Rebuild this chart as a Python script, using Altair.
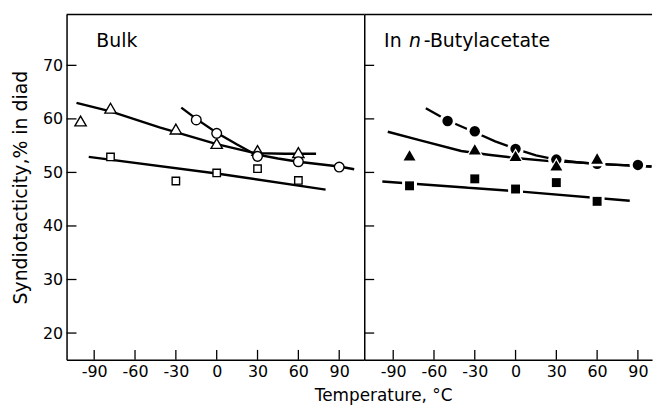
import altair as alt
import pandas as pd

# ---------------- data ----------------
x_ticks = [-90, -60, -30, 0, 30, 60, 90]
y_ticks = [20, 30, 40, 50, 60, 70]

# Bulk: measured points
bulk_tri_T = [-100, -78, -30, 0, 30, 60]
bulk_tri_v = [59.6, 62.0, 58.1, 55.4, 54.1, 53.7]
bulk_circ_T = [-15, 0, 30, 60, 90]
bulk_circ_v = [59.8, 57.3, 53.0, 52.0, 51.0]
bulk_sq_T = [-78, -30, 0, 30, 60]
bulk_sq_v = [52.9, 48.4, 49.9, 50.7, 48.5]

# Bulk: drawn curves
bulk_tri_line_T = [-103, -78, -42, 0, 28, 50, 73]
bulk_tri_line_v = [63.0, 61.4, 58.4, 55.3, 53.6, 53.5, 53.5]
bulk_circ_line_T = [-26, -15, 0, 15, 28, 45, 60, 90, 101]
bulk_circ_line_v = [62.1, 60.0, 57.4, 55.2, 53.4, 52.6, 52.0, 51.1, 50.6]
bulk_sq_line_T = [-94, 0, 80]
bulk_sq_line_v = [52.9, 49.8, 46.8]

# In n-Butylacetate: measured points
sol_circ_T = [-50, -30, 0, 30, 60, 90]
sol_circ_v = [59.6, 57.7, 54.4, 52.4, 51.6, 51.4]
sol_tri_T = [-78, -30, 0, 30, 60]
sol_tri_v = [53.2, 54.3, 53.1, 51.3, 52.6]
sol_sq_T = [-78, -30, 0, 30, 60]
sol_sq_v = [47.5, 48.8, 46.9, 48.1, 44.6]

# In n-Butylacetate: drawn curves
sol_circ_line_T = [-66, -50, -30, -15, 0, 15, 30, 45, 60, 75, 100]
sol_circ_line_v = [62.0, 59.7, 57.5, 55.8, 54.4, 53.2, 52.4, 51.9, 51.6, 51.4, 51.1]
sol_tri_line_T = [-94, -70, -40, -20, 0, 25, 45, 60, 100]
sol_tri_line_v = [57.6, 56.0, 54.0, 53.3, 52.7, 52.1, 51.9, 51.6, 51.1]
sol_sq_line_T = [-98, 0, 84]
sol_sq_line_v = [48.3, 46.5, 44.7]

# ---------------- layout ----------------
H = 348
W1 = 300
W2 = 290
Y_DOM = [15, 79.5]
X_DOM1 = [-110.3, 108.4]
X_DOM2 = [-111.3, 100.4]
FONT = "DejaVu Sans"
LABEL_EXPR = "datum.value < 0 ? '-' + abs(datum.value) : '' + datum.value"


def df(T, v, s):
    return pd.DataFrame({"t": T, "v": v, "s": s})


def lines_df(items):
    return pd.concat([df(T, v, s) for T, v, s in items], ignore_index=True)


def panel(xdom, width, lines, markers, labels, left):
    xs = alt.Scale(domain=xdom, nice=False, zero=False)
    ys = alt.Scale(domain=Y_DOM, nice=False, zero=False)
    common = dict(ticks=False, grid=False, labelFont=FONT, labelFontSize=16,
                  labelColor="black", domainColor="black", domainWidth=1.5,
                  titleFont=FONT, titleFontWeight="normal", titleColor="black")
    if left:
        xaxis = alt.Axis(values=x_ticks, labelExpr=LABEL_EXPR, labelPadding=4,
                         labelFlush=False, labelOverlap=False, **common)
        yaxis = alt.Axis(values=y_ticks, labelPadding=4, labelFlush=False,
                         labelOverlap=False, titlePadding=12, titleFontSize=19, **common)
        xtitle = None
        ytitle = "Syndiotacticity,% in diad"
    else:
        xaxis = alt.Axis(values=x_ticks, labelExpr=LABEL_EXPR, labelPadding=4,
                         labelFlush=False, labelOverlap=False, titleX=19,
                         titleAlign="center", titlePadding=8, titleFontSize=17, **common)
        yaxis = alt.Axis(values=y_ticks, labels=False, **common)
        xtitle = "Temperature, °C"
        ytitle = None

    X = lambda f: alt.X(f"{f}:Q", scale=xs, axis=xaxis, title=xtitle)
    Y = lambda f: alt.Y(f"{f}:Q", scale=ys, axis=yaxis, title=ytitle)

    layers = []
    layers.append(
        alt.Chart(lines).mark_line(color="black", strokeWidth=2.4)
        .encode(x=X("t"), y=Y("v"), detail="s:N")
    )
    for data, shape, size, filled, halo in markers:
        if halo:
            layers.append(
                alt.Chart(data).mark_point(shape=shape, size=halo, filled=True,
                                           fill="white", strokeWidth=0, opacity=1)
                .encode(x=X("t"), y=Y("v"))
            )
        if filled:
            mk = alt.Chart(data).mark_point(shape=shape, size=size, filled=True,
                                            fill="black", strokeWidth=0, opacity=1)
        else:
            mk = alt.Chart(data).mark_point(shape=shape, size=size, filled=True,
                                            fill="white", stroke="black",
                                            strokeWidth=1.4, opacity=1)
        layers.append(mk.encode(x=X("t"), y=Y("v")))

    # inward ticks
    layers.append(
        alt.Chart(pd.DataFrame({"v": y_ticks})).mark_rule(color="black", strokeWidth=1.3)
        .encode(y=Y("v"), x=alt.value(0), x2=alt.value(10))
    )
    layers.append(
        alt.Chart(pd.DataFrame({"t": x_ticks})).mark_rule(color="black", strokeWidth=1.3)
        .encode(x=X("t"), y=alt.value(H), y2=alt.value(H - 10))
    )
    # top border
    layers.append(
        alt.Chart(pd.DataFrame({"a": [0]})).mark_rule(color="black", strokeWidth=1.5)
        .encode(x=alt.value(0), x2=alt.value(width), y=alt.value(0))
    )
    # panel labels
    for text, xpos, italic in labels:
        layers.append(
            alt.Chart(pd.DataFrame({"label": [text]}))
            .mark_text(align="left", baseline="alphabetic", font=FONT, fontSize=19,
                       color="black", fontStyle="italic" if italic else "normal")
            .encode(text="label:N", x=alt.value(xpos), y=alt.value(33))
        )
    return alt.layer(*layers).properties(width=width, height=H)


bulk_lines = lines_df([
    (bulk_tri_line_T, bulk_tri_line_v, "tri"),
    (bulk_circ_line_T, bulk_circ_line_v, "circ"),
    (bulk_sq_line_T, bulk_sq_line_v, "sq"),
])
sol_lines = lines_df([
    (sol_circ_line_T, sol_circ_line_v, "circ"),
    (sol_tri_line_T, sol_tri_line_v, "tri"),
    (sol_sq_line_T, sol_sq_line_v, "sq"),
])

bulk_markers = [
    (df(bulk_tri_T, bulk_tri_v, "tri"), "triangle-up", 130, False, None),
    (df(bulk_circ_T, bulk_circ_v, "circ"), "circle", 95, False, None),
    (df(bulk_sq_T, bulk_sq_v, "sq"), "square", 56, False, None),
]
sol_markers = [
    (df(sol_circ_T, sol_circ_v, "circ"), "circle", 110, True, 280),
    (df(sol_tri_T, sol_tri_v, "tri"), "triangle-up", 144, True, 320),
    (df(sol_sq_T, sol_sq_v, "sq"), "square", 81, True, 225),
]

left = panel(X_DOM1, W1, bulk_lines, bulk_markers, [("Bulk", 30, False)], True)
right = panel(X_DOM2, W2, sol_lines, sol_markers,
              [("In", 20, False), ("n", 45, True), ("-Butylacetate", 60, False)], False)

chart = (
    alt.hconcat(left, right, spacing=0, bounds="flush")
    .properties(padding={"left": 3, "top": 4, "right": 0, "bottom": 0})
    .configure(background="white")
    .configure_view(stroke=None)
)

chart.save("out.html", embed_options={"renderer": "svg", "actions": False})
